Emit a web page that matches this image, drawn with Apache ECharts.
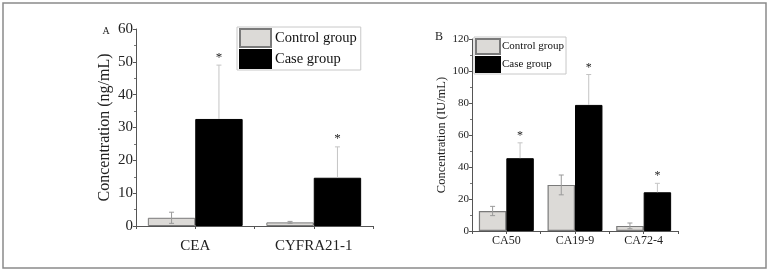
<!DOCTYPE html>
<html><head><meta charset="utf-8">
<script src="https://cdn.jsdelivr.net/npm/echarts@6/dist/echarts.min.js"></script>
<style>html,body{margin:0;padding:0;background:#fff}#c{width:770px;height:274px}</style>
</head><body><div id="c"></div>
<script>
// Panel A data
const catsA = ['CEA', 'CYFRA21-1'];
const controlA = [2.5, 1.1];
const controlErrA = [1.7, 0.3];
const caseA = [32.6, 14.7];
const caseErrA = [16.4, 9.4];
const yTicksA = [0, 60, 10];
// Panel B data
const catsB = ['CA50', 'CA19-9', 'CA72-4'];
const controlB = [12.5, 28.8, 3.2];
const controlErrB = [2.9, 6.2, 1.8];
const caseB = [45.5, 78.8, 24.2];
const caseErrB = [9.6, 19.0, 5.6];
const yTicksB = [0, 120, 20];
const seriesNames = ['Control group', 'Case group'];

const FONT = '"Liberation Serif", "DejaVu Serif", serif';
const CTRL = '#dcdad7', CTRL_BORDER = '#7a7a7a', CASE = '#000';

function errRender(side, showLower, color, starGap, starSize) {
  return function (params, api) {
    const idx = api.value(0), val = api.value(1), err = api.value(2);
    const band = api.size([1, 0])[0];
    const off = side * band * 0.2;
    const c = api.coord([idx, val]);
    const hi = api.coord([idx, val + err]);
    const lo = api.coord([idx, val - err]);
    const x = c[0] + off;
    const cap = 2.5;
    const children = [];
    const yBottom = showLower ? lo[1] : c[1];
    children.push({type: 'line', shape: {x1: x, y1: hi[1], x2: x, y2: yBottom}, style: {stroke: color, lineWidth: 1}});
    children.push({type: 'line', shape: {x1: x - cap, y1: hi[1], x2: x + cap, y2: hi[1]}, style: {stroke: color, lineWidth: 1}});
    if (showLower) children.push({type: 'line', shape: {x1: x - cap, y1: lo[1], x2: x + cap, y2: lo[1]}, style: {stroke: color, lineWidth: 1}});
    if (starGap != null) {
      children.push({type: 'text', x: x, y: hi[1] - starGap, style: {text: '*', font: starSize + 'px ' + FONT, fill: '#222', align: 'center', verticalAlign: 'middle'}});
    }
    return {type: 'group', children: children};
  };
}

function errData(vals, errs) { return vals.map((v, i) => [i, v, errs[i]]); }

function yAxisCfg(gi, ticks, name, fs, nfs, gap) {
  return {
    type: 'value', gridIndex: gi, min: ticks[0], max: ticks[1], interval: ticks[2],
    name: name, nameLocation: 'middle', nameGap: gap,
    nameTextStyle: {fontFamily: FONT, fontSize: nfs, color: '#222'},
    axisLine: {show: true, lineStyle: {color: '#555', width: 1}},
    axisTick: {show: true, inside: false, length: 3, lineStyle: {color: '#555'}},
    minorTick: {show: true, splitNumber: 2, length: 2, lineStyle: {color: '#777'}},
    splitLine: {show: false},
    axisLabel: {fontFamily: FONT, fontSize: fs, color: '#222', margin: 3}
  };
}

function xAxisCfg(gi, cats, fs, margin, labels, alignLabel) {
  return {
    type: 'category', gridIndex: gi, data: cats, position: 'bottom',
    axisLine: {show: labels, onZero: false, lineStyle: {color: '#555', width: 1}},
    axisTick: {show: true, inside: false, length: 3, alignWithLabel: alignLabel, lineStyle: {color: '#555'}},
    axisLabel: {show: labels, fontFamily: FONT, fontSize: fs, color: '#222', margin: margin},
    splitLine: {show: false}
  };
}

const chart = echarts.init(document.getElementById('c'), null, {renderer: 'canvas'});
chart.setOption({
  animation: false,
  backgroundColor: '#fff',
  grid: [
    {left: 136, top: 29, width: 237, height: 197},
    {left: 472, top: 39, width: 206, height: 192}
  ],
  xAxis: [
    xAxisCfg(0, catsA, 15, 13, true, false),
    xAxisCfg(1, catsB, 12, 4, true, false),
    xAxisCfg(0, catsA, 15, 13, false, true),
    xAxisCfg(1, catsB, 12, 4, false, true)
  ],
  yAxis: [
    yAxisCfg(0, yTicksA, 'Concentration (ng/mL)', 15, 16, 23),
    yAxisCfg(1, yTicksB, 'Concentration (IU/mL)', 11, 12.5, 23)
  ],
  legend: [
    {data: seriesNames, orient: 'vertical', left: 237, top: 27, itemWidth: 31, itemHeight: 18, itemGap: 1,
     padding: [1, 4, 1, 2], borderColor: '#c8c8c8', borderWidth: 1, icon: 'rect',
     textStyle: {fontFamily: FONT, fontSize: 14.5, color: '#111', padding: [0, 0, 0, -1]}},
    {data: seriesNames, orient: 'vertical', left: 474, top: 37, itemWidth: 24, itemHeight: 15, itemGap: 1,
     padding: [1, 2, 1, 1], borderColor: '#c8c8c8', borderWidth: 1, icon: 'rect',
     textStyle: {fontFamily: FONT, fontSize: 11, color: '#111', padding: [0, 0, 0, -3]}}
  ],
  graphic: [
    {type: 'rect', shape: {x: 3, y: 3, width: 763, height: 265}, style: {fill: 'none', stroke: '#8a8a8a', lineWidth: 1.5}},
    {type: 'text', x: 106, y: 31, style: {text: 'A', font: '10px ' + FONT, fill: '#222', align: 'center', verticalAlign: 'middle'}},
    {type: 'text', x: 439, y: 37, style: {text: 'B', font: '12px ' + FONT, fill: '#222', align: 'center', verticalAlign: 'middle'}}
  ],
  series: [
    {name: seriesNames[0], type: 'bar', xAxisIndex: 0, yAxisIndex: 0, data: controlA, barGap: '0%', barCategoryGap: '20%',
     itemStyle: {color: CTRL, borderColor: CTRL_BORDER, borderWidth: 1}},
    {name: seriesNames[1], type: 'bar', xAxisIndex: 0, yAxisIndex: 0, data: caseA, barGap: '0%', barCategoryGap: '20%',
     itemStyle: {color: CASE, borderColor: CASE, borderWidth: 1}},
    {name: seriesNames[0], type: 'bar', xAxisIndex: 1, yAxisIndex: 1, data: controlB, barGap: '0%', barCategoryGap: '20%',
     itemStyle: {color: CTRL, borderColor: CTRL_BORDER, borderWidth: 1.2}},
    {name: seriesNames[1], type: 'bar', xAxisIndex: 1, yAxisIndex: 1, data: caseB, barGap: '0%', barCategoryGap: '20%',
     itemStyle: {color: CASE, borderColor: CASE, borderWidth: 1}},
    {type: 'custom', xAxisIndex: 0, yAxisIndex: 0, renderItem: errRender(-1, true, '#9a9a9a', null, 0), data: errData(controlA, controlErrA), z: 5},
    {type: 'custom', xAxisIndex: 0, yAxisIndex: 0, renderItem: errRender(1, false, '#c4c4c4', 8, 13), data: errData(caseA, caseErrA), z: 5},
    {type: 'custom', xAxisIndex: 1, yAxisIndex: 1, renderItem: errRender(-1, true, '#9a9a9a', null, 0), data: errData(controlB, controlErrB), z: 5},
    {type: 'custom', xAxisIndex: 1, yAxisIndex: 1, renderItem: errRender(1, false, '#c4c4c4', 7, 12), data: errData(caseB, caseErrB), z: 5}
  ]
});
</script></body></html>
